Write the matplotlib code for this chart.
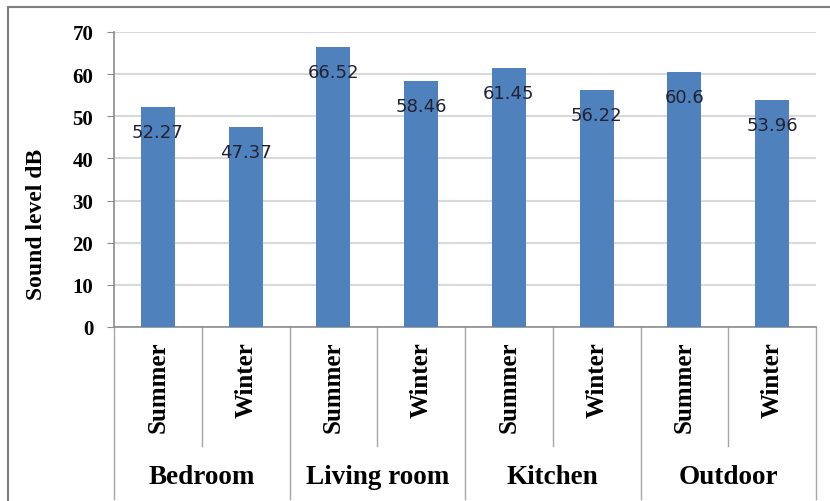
import matplotlib
matplotlib.use("Agg")
import matplotlib.pyplot as plt
import matplotlib.transforms as mtransforms
from matplotlib.lines import Line2D
from matplotlib.patches import Rectangle

rooms = ["Bedroom", "Living room", "Kitchen", "Outdoor"]
seasons = ["Summer", "Winter"]
sound_level = [52.27, 47.37, 66.52, 58.46, 61.45, 56.22, 60.6, 53.96]
y_ticks = [0, 10, 20, 30, 40, 50, 60, 70]

W, H = 830, 502
bar_color = "#4F81BD"
line_gray = "#a6a6a6"
serif = "Liberation Serif"

fig = plt.figure(figsize=(W / 100, H / 100), dpi=100)
ax = fig.add_axes([114 / W, 1 - 328 / H, (816 - 114) / W, (328 - 33) / H])

def fy(py):
    # pixel row (from top) -> figure fraction
    return 1 - py / H

xs = list(range(len(sound_level)))
ax.bar(xs, sound_level, width=0.39, color=bar_color, zorder=3)

for x, v in zip(xs, sound_level):
    ax.annotate(f"{v:g}", (x, v), xytext=(0, -18), textcoords="offset points",
                ha="center", va="center", fontsize=13, color="#222233",
                family="DejaVu Sans", zorder=4)

ax.set_xlim(-0.5, len(sound_level) - 0.5)
ax.set_ylim(0, 70)
ax.set_yticks(y_ticks)
ax.set_yticklabels([str(t) for t in y_ticks], family=serif, fontweight="bold", fontsize=15)
ax.tick_params(axis="y", length=5, color="#8c8c8c", pad=10)
ax.set_xticks([])
ax.yaxis.grid(True, color="#d9d9d9", linewidth=1.5, zorder=0)
ax.set_axisbelow(True)
for side in ["top", "right"]:
    ax.spines[side].set_visible(False)
for side in ["left", "bottom"]:
    ax.spines[side].set_color("#8c8c8c")
    ax.spines[side].set_linewidth(1.2)

fig.text(37 / W, fy(224), "Sound level dB", rotation=90, ha="center", va="center",
         family=serif, fontweight="bold", fontsize=17)

# two-level category axis drawn below the plot
trans = mtransforms.blended_transform_factory(ax.transData, fig.transFigure)
n_season = len(seasons)
for i, x in enumerate(xs):
    ax.text(x, fy(342), seasons[i % n_season], rotation=90, ha="center", va="top",
            transform=trans, family=serif, fontweight="bold", fontsize=18, clip_on=False)
for g, room in enumerate(rooms):
    cx = g * n_season + (n_season - 1) / 2
    ax.text(cx, fy(478), room, ha="center", va="center", transform=trans,
            family=serif, fontweight="bold", fontsize=19.5, clip_on=False)
for g in range(len(rooms) + 1):
    bx = g * n_season - 0.5
    ax.add_line(Line2D([bx, bx], [fy(328), fy(500)], transform=trans,
                       color=line_gray, linewidth=1, clip_on=False))
for g in range(len(rooms)):
    bx = g * n_season + 0.5
    ax.add_line(Line2D([bx, bx], [fy(328), fy(447)], transform=trans,
                       color=line_gray, linewidth=1, clip_on=False))

# outer frame
fig.patches.append(Rectangle((8 / W, -0.1), 1.2, fy(8) + 0.1, transform=fig.transFigure,
                             fill=False, edgecolor="#7f7f7f", linewidth=1.5))

fig.savefig("out.png", dpi=100)
